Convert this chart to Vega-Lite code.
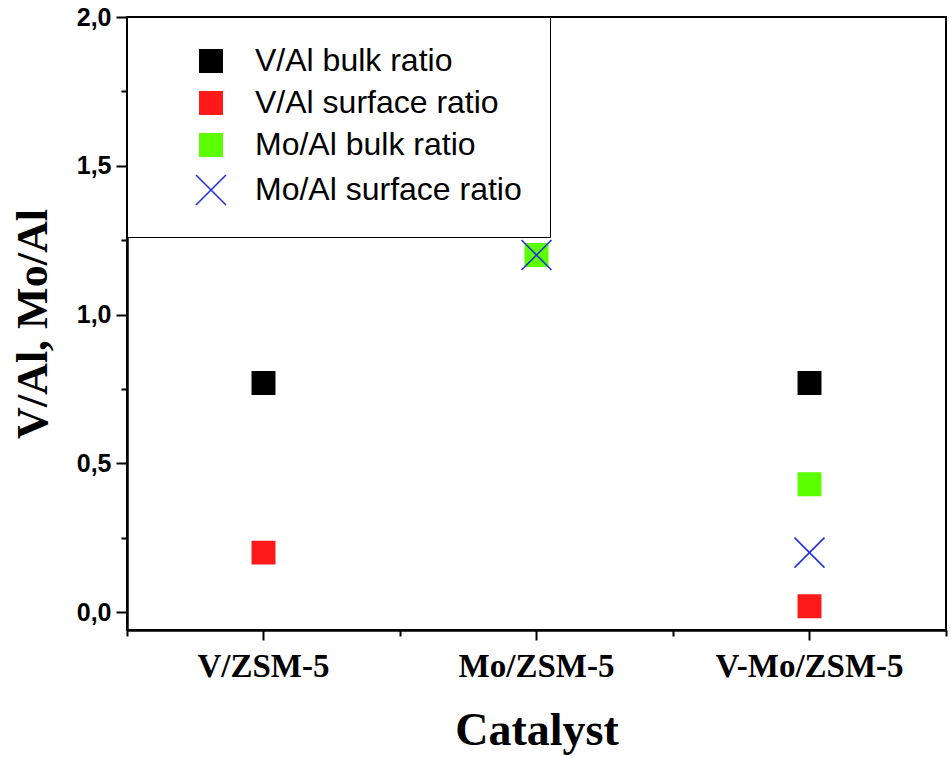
{
  "$schema": "https://vega.github.io/schema/vega-lite/v6.json",
  "width": 819,
  "height": 613,
  "autosize": {"type": "none"},
  "padding": {"left": 127, "top": 17, "right": 6, "bottom": 128},
  "background": "white",
  "data": {
    "values": [
      {"catalyst": "V/ZSM-5", "series": "V/Al bulk ratio", "value": 0.77},
      {"catalyst": "V/ZSM-5", "series": "V/Al surface ratio", "value": 0.2},
      {"catalyst": "Mo/ZSM-5", "series": "Mo/Al bulk ratio", "value": 1.2},
      {"catalyst": "V-Mo/ZSM-5", "series": "V/Al bulk ratio", "value": 0.77},
      {"catalyst": "V-Mo/ZSM-5", "series": "V/Al surface ratio", "value": 0.02},
      {"catalyst": "V-Mo/ZSM-5", "series": "Mo/Al bulk ratio", "value": 0.43},
      {"catalyst": "Mo/ZSM-5", "series": "Mo/Al surface ratio", "value": 1.2},
      {"catalyst": "V-Mo/ZSM-5", "series": "Mo/Al surface ratio", "value": 0.2}
    ]
  },
  "layer": [
    {
      "mark": {"type": "point", "filled": true, "opacity": 1, "strokeWidth": 1.6},
      "encoding": {
        "x": {
          "field": "catalyst",
          "type": "nominal",
          "sort": ["V/ZSM-5", "Mo/ZSM-5", "V-Mo/ZSM-5"],
          "scale": {"type": "band", "paddingInner": 0, "paddingOuter": 0},
          "axis": {
            "orient": "bottom",
            "title": "Catalyst",
            "titleFontSize": 46,
            "labelAngle": 0,
            "labelFontSize": 33,
            "labelLimit": 300,
            "tickSize": 10,
            "labelPadding": 10,
            "titlePadding": 25
          }
        },
        "y": {
          "field": "value",
          "type": "quantitative",
          "scale": {"domain": [-0.06, 2.0], "nice": false, "zero": false},
          "axis": {
            "title": "V/Al, Mo/Al",
            "titleFontSize": 44,
            "values": [0, 0.25, 0.5, 0.75, 1, 1.25, 1.5, 1.75, 2],
            "labelExpr": "datum.value % 0.5 === 0 ? replace(format(datum.value, '.1f'), '.', ',') : ''",
            "tickSize": {"condition": {"test": "datum.value % 0.5 !== 0", "value": 6}, "value": 11},
            "labelFont": "Liberation Sans",
            "labelFontSize": 25,
            "labelFontWeight": "bold",
            "labelPadding": 5,
            "titlePadding": 21
          }
        },
        "color": {
          "field": "series",
          "type": "nominal",
          "scale": {
            "domain": ["V/Al bulk ratio", "V/Al surface ratio", "Mo/Al bulk ratio", "Mo/Al surface ratio"],
            "range": ["#000000", "#ff1a1a", "#5cff00", "#2233dd"]
          },
          "legend": {
            "orient": "top-left",
            "offset": 0,
            "title": null,
            "fillColor": "white",
            "strokeColor": "black",
            "padding": 28,
            "labelFont": "Liberation Sans",
            "labelFontSize": 32,
            "labelColor": "black",
            "labelOffset": 28,
            "rowPadding": 10,
            "symbolStrokeWidth": 1.6,
            "symbolOffset": 40,
            "labelLimit": 500
          }
        },
        "stroke": {
          "field": "series",
          "type": "nominal",
          "scale": {
            "domain": ["V/Al bulk ratio", "V/Al surface ratio", "Mo/Al bulk ratio", "Mo/Al surface ratio"],
            "range": ["#000000", "#ff1a1a", "#5cff00", "#2233dd"]
          },
          "legend": {
            "orient": "top-left",
            "offset": 0,
            "title": null,
            "fillColor": "white",
            "strokeColor": "black",
            "padding": 28,
            "labelFont": "Liberation Sans",
            "labelFontSize": 32,
            "labelColor": "black",
            "labelOffset": 28,
            "rowPadding": 10,
            "symbolStrokeWidth": 1.6,
            "symbolOffset": 40,
            "labelLimit": 500
          }
        },
        "shape": {
          "field": "series",
          "type": "nominal",
          "scale": {
            "domain": ["V/Al bulk ratio", "V/Al surface ratio", "Mo/Al bulk ratio", "Mo/Al surface ratio"],
            "range": ["square", "square", "square", "M-1,-1L1,1M-1,1L1,-1"]
          },
          "legend": {
            "orient": "top-left",
            "offset": 0,
            "title": null,
            "fillColor": "white",
            "strokeColor": "black",
            "padding": 28,
            "labelFont": "Liberation Sans",
            "labelFontSize": 32,
            "labelColor": "black",
            "labelOffset": 28,
            "rowPadding": 10,
            "symbolStrokeWidth": 1.6,
            "symbolOffset": 40,
            "labelLimit": 500
          }
        },
        "size": {
          "field": "series",
          "type": "nominal",
          "scale": {
            "type": "ordinal",
            "domain": ["V/Al bulk ratio", "V/Al surface ratio", "Mo/Al bulk ratio", "Mo/Al surface ratio"],
            "range": [500, 500, 500, 900]
          },
          "legend": null
        }
      }
    },
    {
      "mark": {"type": "point", "opacity": 0},
      "encoding": {
        "x": {
          "field": "catalyst",
          "type": "nominal",
          "sort": ["V/ZSM-5", "Mo/ZSM-5", "V-Mo/ZSM-5"],
          "axis": {
            "orient": "bottom",
            "title": null,
            "labels": false,
            "domain": false,
            "tickBand": "extent",
            "tickSize": 6
          }
        },
        "y": {"field": "value", "type": "quantitative"}
      }
    }
  ],
  "resolve": {"axis": {"x": "independent"}},
  "config": {
    "view": {"stroke": "black", "strokeWidth": 2},
    "axis": {
      "grid": false,
      "domainColor": "black",
      "domainWidth": 2.5,
      "tickColor": "black",
      "tickWidth": 2,
      "labelColor": "black",
      "labelFont": "Liberation Serif",
      "labelFontSize": 24,
      "labelFontWeight": "bold",
      "titleFont": "Liberation Serif",
      "titleFontSize": 40,
      "titleFontWeight": "bold",
      "titleColor": "black",
      "titlePadding": 24
    }
  }
}
